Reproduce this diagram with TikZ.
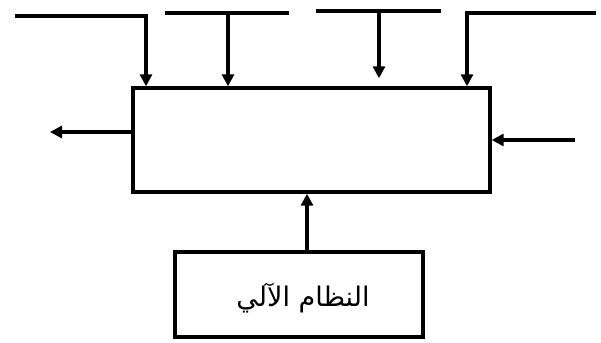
\documentclass[tikz,border=0pt]{standalone}
\usepackage{fontspec}
\newfontfamily\arabicfont[Script=Arabic]{DejaVu Sans}
\TeXXeTstate=1
\usetikzlibrary{arrows.meta}
\begin{document}
\begin{tikzpicture}[x=1pt,y=-1pt,
  line/.style={line width=3.2pt},
  arr/.style={line width=3.2pt,-{Triangle[length=12pt,width=12pt]}},
  box/.style={draw,line width=3.4pt,inner sep=0pt}]
\useasboundingbox (0,0) rectangle (601,342);
\node[box,minimum width=357pt,minimum height=104pt] (main) at (311.5,140) {};
\node[box,minimum width=248pt,minimum height=85pt] (sys) at (299,294.5) {};
\node (lbl) at (303,298) {\fontsize{27}{30}\selectfont\arabicfont\beginR النظام الآلي\endR};
% top inputs
\coordinate (a1) at (15,16); \coordinate (b1) at (146,16);
\coordinate (a2) at (165,13); \coordinate (c2) at (289,13); \coordinate (b2) at (228,13);
\coordinate (a3) at (316,11); \coordinate (c3) at (441,11); \coordinate (b3) at (379,11);
\coordinate (b4) at (467,13); \coordinate (c4) at (596,13);
\draw[arr] (a1) -- (b1) -- (b1 |- main.north);
\draw[line] (a2) -- (c2);
\draw[arr] (b2) -- (b2 |- main.north);
\draw[line] (a3) -- (c3);
\draw[arr] (b3) -- ([yshift=8pt]b3 |- main.north);
\draw[arr] (c4) -- (b4) -- (b4 |- main.north);
% side arrows
\coordinate (outL) at (50,132);
\coordinate (inR) at (575,140);
\draw[arr] (main.west |- outL) -- (outL);
\draw[arr] (inR) -- (main.east |- inR);
% bottom
\draw[arr] (sys.north -| 307,0) -- (main.south -| 307,0);
\end{tikzpicture}
\end{document}
